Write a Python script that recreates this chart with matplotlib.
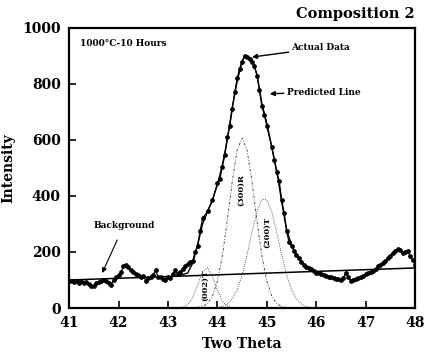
import matplotlib.pyplot as plt

plt.rcParams['font.family'] = 'DejaVu Serif'
plt.rcParams['font.weight'] = 'bold'

# measured data (two theta, intensity)
data_x = [41.00, 41.05, 41.10, 41.15, 41.20, 41.25, 41.30, 41.35, 41.40, 41.45,
          41.50, 41.55, 41.60, 41.65, 41.70, 41.75, 41.80, 41.85, 41.90, 41.95,
          42.00, 42.05, 42.10, 42.15, 42.20, 42.25, 42.30, 42.35, 42.40, 42.45,
          42.50, 42.55, 42.60, 42.65, 42.70, 42.75, 42.80, 42.85, 42.90, 42.95,
          43.00, 43.05, 43.10, 43.15, 43.20, 43.25, 43.30, 43.35, 43.40, 43.45,
          43.50, 43.55, 43.60, 43.65, 43.70, 43.80, 43.90, 44.00, 44.05, 44.10,
          44.15, 44.20, 44.25, 44.30, 44.35, 44.40, 44.45, 44.50, 44.55, 44.60,
          44.65, 44.70, 44.75, 44.80, 44.85, 44.90, 44.95, 45.00, 45.10, 45.15,
          45.20, 45.25, 45.30, 45.35, 45.40, 45.45, 45.50, 45.55, 45.60, 45.65,
          45.70, 45.75, 45.80, 45.85, 45.90, 45.95, 46.00, 46.05, 46.10, 46.15,
          46.20, 46.25, 46.30, 46.35, 46.40, 46.45, 46.50, 46.55, 46.60, 46.65,
          46.70, 46.75, 46.80, 46.85, 46.90, 46.95, 47.00, 47.05, 47.10, 47.15,
          47.20, 47.25, 47.30, 47.35, 47.40, 47.45, 47.50, 47.55, 47.60, 47.65,
          47.70, 47.75, 47.80, 47.85, 47.90, 47.95, 48.00]
data_y = [95, 98, 92, 96, 90, 95, 88, 92, 85, 80,
          78, 88, 92, 96, 100, 95, 88, 82, 100, 110,
          118, 128, 150, 155, 145, 135, 128, 120, 118, 112,
          115, 98, 108, 112, 118, 136, 110, 112, 105, 100,
          112, 108, 120, 135, 120, 128, 140, 150, 158, 165,
          168, 200, 222, 275, 320, 345, 385, 445, 460, 505,
          545, 610, 650, 710, 770, 820, 855, 880, 900, 895,
          890, 880, 865, 830, 780, 720, 690, 650, 575, 530,
          485, 455, 385, 340, 275, 235, 220, 205, 190, 178,
          165, 155, 148, 142, 138, 132, 125, 125, 122, 118,
          115, 112, 110, 108, 105, 102, 100, 108, 125, 110,
          98, 100, 104, 108, 112, 116, 120, 124, 128, 132,
          138, 150, 155, 162, 168, 178, 185, 195, 205, 212,
          208, 196, 200, 205, 185, 170, 155]

# fitted curve
pred_x = [43.2, 43.4, 43.5, 43.6, 43.7, 43.8, 43.9, 44.0, 44.1, 44.2, 44.3,
          44.4, 44.5, 44.55, 44.6, 44.7, 44.8, 44.9, 45.0, 45.1, 45.2, 45.3,
          45.4, 45.5, 45.6, 45.7, 45.8, 45.9, 46.0]
pred_y = [114, 125, 160, 225, 300, 345, 385, 440, 510, 600, 715,
          810, 880, 900, 900, 885, 835, 730, 660, 575, 490, 380,
          280, 225, 190, 165, 150, 140, 130]

# background line
bg_x = [41, 48]
bg_y = [100, 143]

# component peaks
t002_x = [43.3, 43.4, 43.5, 43.6, 43.7, 43.8, 43.9, 44.0, 44.1, 44.2, 44.3]
t002_y = [3, 12, 37, 83, 130, 144, 113, 63, 25, 7, 1]

r300_x = [43.6, 43.7, 43.8, 43.9, 44.0, 44.1, 44.2, 44.3, 44.4, 44.5,
          44.6, 44.7, 44.8, 44.9, 45.0, 45.1, 45.2, 45.3, 45.4]
r300_y = [2, 5, 16, 42, 96, 186, 312, 451, 564, 607,
          564, 451, 312, 186, 96, 42, 16, 5, 2]

t200_x = [44.0, 44.1, 44.2, 44.3, 44.4, 44.5, 44.6, 44.7, 44.8, 44.9,
          45.0, 45.1, 45.2, 45.3, 45.4, 45.5, 45.6, 45.7, 45.8, 45.9]
t200_y = [2, 5, 14, 32, 65, 118, 190, 271, 344, 387,
          387, 344, 271, 190, 118, 65, 32, 14, 5, 2]

fig = plt.figure(figsize=(4.24, 3.63), dpi=100)
ax = fig.add_axes([0.163, 0.1515, 0.816, 0.7715])

ax.plot(bg_x, bg_y, color='black', lw=1.1)
ax.plot(t002_x, t002_y, color='#333333', lw=0.6, ls=(0, (1, 1.5)))
ax.plot(r300_x, r300_y, color='#333333', lw=0.6, ls=(0, (3, 2, 1, 2)))
ax.plot(t200_x, t200_y, color='#333333', lw=0.6, ls=(0, (1, 1.5)))
ax.plot(pred_x, pred_y, color='black', lw=1.0)
ax.plot(data_x, data_y, color='black', lw=0.9, marker='o', ms=2.4)

ax.set_xlim(41, 48)
ax.set_ylim(0, 1000)
ax.set_xticks(range(41, 49))
ax.set_yticks(range(0, 1001, 200))
ax.tick_params(direction='in', length=5, width=1.2, labelsize=10, pad=6)
for s in ax.spines.values():
    s.set_linewidth(1.6)

ax.set_xlabel('Two Theta', fontsize=10, fontweight='bold', labelpad=5)
ax.set_ylabel('Intensity', fontsize=10, fontweight='bold', labelpad=5)

fig.text(0.979, 0.962, 'Composition 2', ha='right', va='center',
         fontsize=10.5, fontweight='bold')
ax.text(0.032, 0.946, '1000°C-10 Hours', transform=ax.transAxes,
        fontsize=6.5, fontweight='bold', va='center')

ax.annotate('Actual Data', xy=(44.7, 896), xytext=(45.5, 929),
            fontsize=6.5, fontweight='bold', va='center',
            arrowprops=dict(arrowstyle='-|>', color='black', lw=1.0,
                            mutation_scale=7, shrinkA=0, shrinkB=0))
ax.annotate('Predicted Line', xy=(45.06, 765), xytext=(45.4, 771),
            fontsize=6.5, fontweight='bold', va='center',
            arrowprops=dict(arrowstyle='-|>', color='black', lw=1.0,
                            mutation_scale=7, shrinkA=0, shrinkB=0))
ax.annotate('Background', xy=(41.67, 125), xytext=(42.11, 296),
            fontsize=6.5, fontweight='bold', ha='center', va='center',
            arrowprops=dict(arrowstyle='-|>', color='black', lw=0.8,
                            mutation_scale=7, shrinkA=6, shrinkB=0))

ax.text(43.75, 82, '(002)T', rotation=90, fontsize=6, fontweight='bold',
        ha='center', va='center')
ax.text(44.47, 420, '(300)R', rotation=90, fontsize=6, fontweight='bold',
        ha='center', va='center')
ax.text(45.0, 271, '(200)T', rotation=90, fontsize=6, fontweight='bold',
        ha='center', va='center')

fig.savefig('out.png', dpi=100)
